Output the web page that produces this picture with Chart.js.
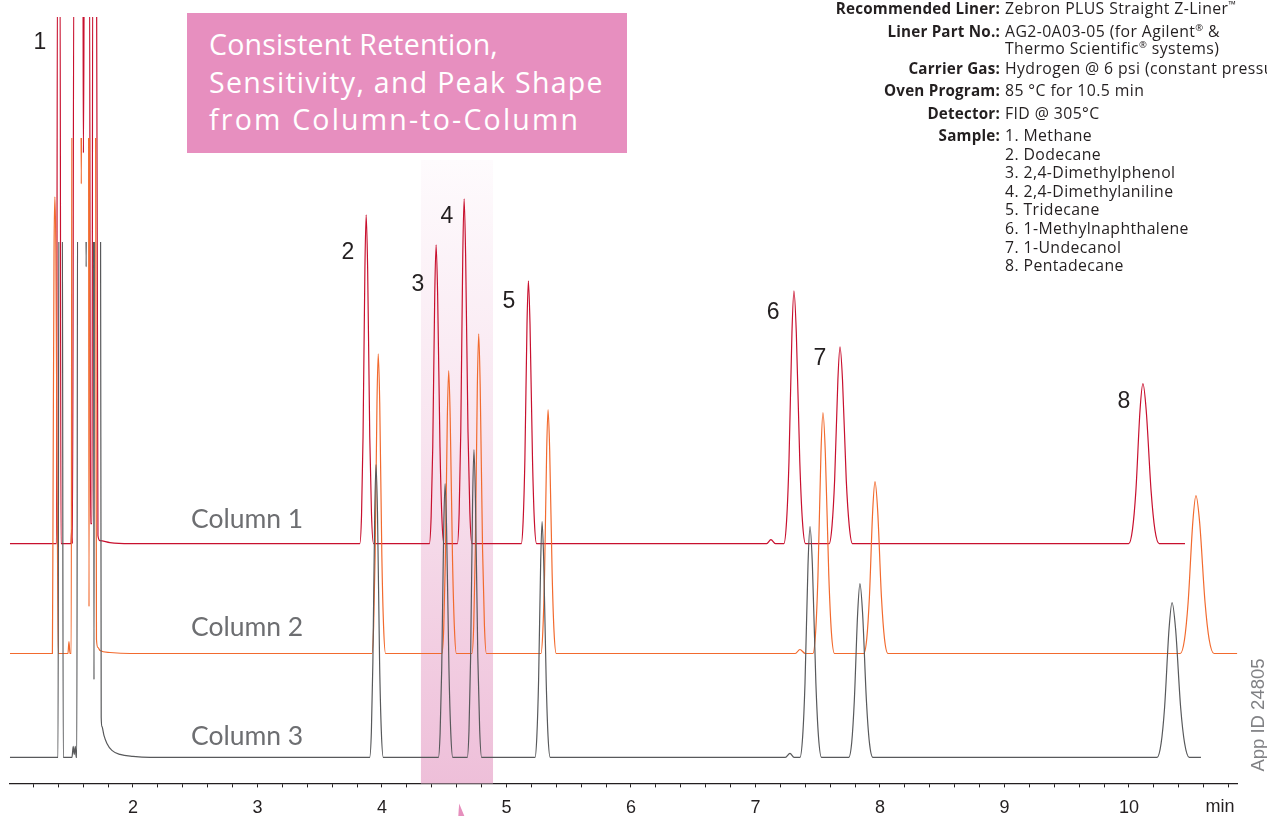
<!DOCTYPE html>
<html>
<head>
<meta charset="utf-8">
<title>Column-to-Column Chromatograms</title>
<script src="https://cdn.jsdelivr.net/npm/chart.js@4.4.1/dist/chart.umd.min.js"></script>
<style>
  html, body { margin: 0; padding: 0; background: #ffffff; overflow: hidden; }
  #wrap { position: relative; width: 1267px; height: 816px; overflow: hidden; }
  #chart { position: absolute; left: 0; top: 0; }
  .headline {
    position: absolute; left: 187px; top: 13px; width: 418px; height: 127px;
    padding: 13px 0 0 22px; background: #e78fbf; color: #ffffff;
    font-family: "Open Sans", Lato, sans-serif; font-size: 28.5px; line-height: 37.5px;
    white-space: nowrap;
  }
  .headline span { display: block; }
  .info { position: absolute; left: 0; top: 0; width: 1267px; height: 300px;
    font-family: "Open Sans", Lato, sans-serif; font-size: 15.8px; letter-spacing: 0.4px; color: #231f20; }
  .row { position: absolute; left: 0; width: 1267px; height: 18px; line-height: 18px; }
  .k { position: absolute; right: 267px; font-weight: 700; white-space: nowrap; font-size: 15.2px; letter-spacing: 0.2px; }
  .v { position: absolute; left: 1005px; white-space: nowrap; }
  .v sup { font-size: 0.6em; line-height: 0; }
  .appid {
    position: absolute; left: 1198px; top: 705px; width: 120px; height: 20px; line-height: 20px;
    text-align: center; transform: rotate(-90deg); color: #808184;
    font-family: "Liberation Sans", Arial, sans-serif; font-size: 18.5px; white-space: nowrap;
  }
</style>
</head>
<body>
<div id="wrap">
  <canvas id="chart" width="1267" height="816"></canvas>
  <div class="headline"><span style="letter-spacing:0.2px">Consistent Retention,</span><span style="letter-spacing:1.3px">Sensitivity, and Peak Shape</span><span style="letter-spacing:2.2px">from Column-to-Column</span></div>
  <div class="info">
    <div class="row" style="top:-1px"><span class="k">Recommended Liner:</span><span class="v">Zebron PLUS Straight Z-Liner<sup>™</sup></span></div>
    <div class="row" style="top:22px"><span class="k">Liner Part No.:</span><span class="v">AG2-0A03-05 (for Agilent<sup>®</sup> &amp;</span></div>
    <div class="row" style="top:39px"><span class="v">Thermo Scientific<sup>®</sup> systems)</span></div>
    <div class="row" style="top:59px"><span class="k">Carrier Gas:</span><span class="v">Hydrogen @ 6 psi (constant pressure)</span></div>
    <div class="row" style="top:81px"><span class="k">Oven Program:</span><span class="v">85 °C for 10.5 min</span></div>
    <div class="row" style="top:104px"><span class="k">Detector:</span><span class="v">FID @ 305°C</span></div>
    <div class="row" style="top:126px"><span class="k">Sample:</span><span class="v">1. Methane</span></div>
    <div class="row" style="top:145px"><span class="v">2. Dodecane</span></div>
    <div class="row" style="top:163px"><span class="v">3. 2,4-Dimethylphenol</span></div>
    <div class="row" style="top:182px"><span class="v">4. 2,4-Dimethylaniline</span></div>
    <div class="row" style="top:200px"><span class="v">5. Tridecane</span></div>
    <div class="row" style="top:219px"><span class="v">6. 1-Methylnaphthalene</span></div>
    <div class="row" style="top:238px"><span class="v">7. 1-Undecanol</span></div>
    <div class="row" style="top:256px"><span class="v">8. Pentadecane</span></div>
  </div>
  <div class="appid">App ID 24805</div>
</div>
<script>
// ---- Data: retention time (min) and detector signal above each trace's own baseline ----
const seriesNames = ['Column 1', 'Column 2', 'Column 3'];

const column1Time = [
  1.012, 1.386, 1.394, 1.414, 1.422, 1.502, 1.508, 1.514, 1.526, 1.598, 1.602, 1.610, 1.651, 1.659, 1.671, 1.677, 1.707, 1.719, 1.735, 1.815, 1.976,
  3.822, 3.836, 3.848, 3.863, 3.873, 3.885, 3.902, 3.916, 3.932,
  4.381, 4.395, 4.408, 4.424, 4.435, 4.447, 4.466, 4.481, 4.497,
  4.606, 4.620, 4.633, 4.649, 4.660, 4.672, 4.691, 4.706, 4.722,
  5.119, 5.134, 5.148, 5.165, 5.176, 5.189, 5.209, 5.224, 5.242,
  7.090, 7.124, 7.160,
  7.228, 7.250, 7.269, 7.293, 7.309, 7.328, 7.356, 7.377, 7.402,
  7.592, 7.615, 7.636, 7.662, 7.679, 7.699, 7.729, 7.753, 7.779,
  9.998, 10.028, 10.055, 10.089, 10.112, 10.138, 10.178, 10.208, 10.243,
  10.450
];
const column1Signal = [
  0, 0, 600, 600, 0, 0, 14, 0, 600, 600, 391, 600, 600, 20, 20, 600, 600, 8, 3, 1, 0,
  0, 29, 107, 275, 329, 275, 107, 29, 0,
  0, 27, 97, 250, 299, 250, 97, 27, 0,
  0, 31, 112, 288, 345, 288, 112, 31, 0,
  0, 23, 85, 220, 263, 220, 85, 23, 0,
  0, 4, 0,
  0, 23, 82, 211, 253, 211, 82, 23, 0,
  0, 18, 64, 164, 197, 164, 64, 18, 0,
  0, 14, 52, 134, 160, 134, 52, 14, 0,
  0
];

const column2Time = [
  1.012, 1.353, 1.358, 1.366, 1.373, 1.381, 1.392, 1.400, 1.478, 1.486, 1.494, 1.504, 1.510, 1.581, 1.585, 1.589, 1.643, 1.647, 1.652, 1.699, 1.707, 1.719, 1.735, 1.815, 1.976,
  3.919, 3.933, 3.945, 3.960, 3.970, 3.982, 3.999, 4.013, 4.029,
  4.482, 4.496, 4.509, 4.525, 4.536, 4.548, 4.567, 4.582, 4.598,
  4.723, 4.737, 4.750, 4.766, 4.777, 4.789, 4.808, 4.823, 4.839,
  5.277, 5.292, 5.306, 5.323, 5.334, 5.347, 5.367, 5.382, 5.400,
  7.320, 7.357, 7.400,
  7.461, 7.483, 7.502, 7.526, 7.542, 7.561, 7.589, 7.610, 7.635,
  7.870, 7.894, 7.915, 7.942, 7.960, 7.981, 8.012, 8.036, 8.064,
  10.412, 10.446, 10.475, 10.513, 10.538, 10.567, 10.611, 10.644, 10.683,
  10.870
];
const column2Signal = [
  0, 0, 150, 400, 457, 400, 150, 0, 0, 12, 0, 0, 600, 600, 470, 600, 600, 47, 600, 600, 14, 6, 3, 1, 0,
  0, 27, 98, 251, 300, 251, 98, 27, 0,
  0, 25, 92, 236, 283, 236, 92, 25, 0,
  0, 28, 104, 267, 320, 267, 104, 28, 0,
  0, 22, 79, 204, 244, 204, 79, 22, 0,
  0, 4, 0,
  0, 21, 78, 201, 241, 201, 78, 21, 0,
  0, 15, 56, 144, 172, 144, 56, 15, 0,
  0, 14, 51, 132, 158, 132, 51, 14, 0,
  0
];

const column3Time = [
  1.012, 1.398, 1.406, 1.432, 1.440, 1.510, 1.520, 1.528, 1.537, 1.544, 1.549, 1.556, 1.620, 1.624, 1.628, 1.683, 1.687, 1.691, 1.739, 1.745, 1.751, 1.767, 1.791, 1.831, 1.896, 2.000, 2.137,
  3.901, 3.915, 3.927, 3.942, 3.952, 3.964, 3.981, 3.995, 4.011,
  4.453, 4.467, 4.480, 4.496, 4.507, 4.519, 4.538, 4.553, 4.569,
  4.685, 4.699, 4.712, 4.728, 4.739, 4.751, 4.770, 4.785, 4.801,
  5.229, 5.244, 5.258, 5.275, 5.286, 5.299, 5.319, 5.334, 5.352,
  7.240, 7.277, 7.310,
  7.357, 7.379, 7.398, 7.422, 7.438, 7.457, 7.485, 7.506, 7.531,
  7.749, 7.773, 7.794, 7.821, 7.839, 7.860, 7.891, 7.915, 7.943,
  10.226, 10.258, 10.286, 10.322, 10.346, 10.374, 10.415, 10.447, 10.484,
  10.578
];
const column3Signal = [
  0, 0, 600, 600, 0, 0, 11, 3, 11, 0, 0, 600, 600, 491, 600, 600, 78, 600, 600, 40, 31, 22, 14, 7, 3, 1, 0,
  0, 26, 95, 245, 293, 245, 95, 26, 0,
  0, 24, 89, 229, 274, 229, 89, 24, 0,
  0, 27, 100, 257, 308, 257, 100, 27, 0,
  0, 21, 77, 197, 236, 197, 77, 21, 0,
  0, 4, 0,
  0, 21, 75, 193, 231, 193, 75, 21, 0,
  0, 15, 57, 145, 174, 145, 57, 15, 0,
  0, 14, 50, 129, 155, 129, 50, 14, 0,
  0
];

const peakNumbers = ['1', '2', '3', '4', '5', '6', '7', '8'];
const majorTicks = [2, 3, 4, 5, 6, 7, 8, 9, 10];
const majorTickLabels = ['2', '3', '4', '5', '6', '7', '8', '9', '10'];
const axisUnit = 'min';

// ---- Layout / styling ----
const traceStyles = [
  { color: '#c8102e', offset: 240, clipTop: 0,    order: 2 },
  { color: '#f26a2e', offset: 130, clipTop: -121, order: 1 },
  { color: '#58595b', offset: 26,  clipTop: -225, order: 0 }
];
const traceData = [
  [column1Time, column1Signal],
  [column2Time, column2Signal],
  [column3Time, column3Signal]
];

const datasets = traceData.map(([times, signal], i) => ({
  label: seriesNames[i],
  data: times.map((t, j) => ({ x: t, y: signal[j] + traceStyles[i].offset })),
  borderColor: traceStyles[i].color,
  borderWidth: 1.2,
  pointRadius: 0,
  fill: false,
  cubicInterpolationMode: 'monotone',
  order: traceStyles[i].order,
  clip: { left: 0, top: traceStyles[i].clipTop, right: 0, bottom: 4 }
}));

// shaded retention window behind peaks 3 and 4
const highlightBand = {
  id: 'highlightBand',
  beforeDatasetsDraw(chart, args, opts) {
    const { ctx, chartArea, scales: { x, y } } = chart;
    const left = x.getPixelForValue(opts.from);
    const right = x.getPixelForValue(opts.to);
    const top = y.getPixelForValue(opts.topLevel);
    const bottom = chartArea.bottom;
    const g = ctx.createLinearGradient(0, top, 0, bottom);
    g.addColorStop(0, '#fefbfd');
    g.addColorStop(0.45, '#f8e4ef');
    g.addColorStop(1, '#eebfd9');
    ctx.save();
    ctx.fillStyle = g;
    ctx.fillRect(left, top, right - left, bottom - top);
    ctx.restore();
  }
};

// peak numbers, trace names, axis unit and pointer
const annotations = {
  id: 'annotations',
  afterDatasetsDraw(chart, args, opts) {
    const { ctx, scales: { x, y } } = chart;
    ctx.save();
    ctx.fillStyle = '#231f20';
    ctx.font = '23px "Liberation Sans", Arial, sans-serif';
    ctx.textAlign = 'center';
    ctx.textBaseline = 'middle';
    peakNumbers.forEach((n, i) => {
      const [t, lvl] = opts.peakAnchors[i];
      ctx.fillText(n, x.getPixelForValue(t), y.getPixelForValue(lvl));
    });
    ctx.fillStyle = '#6d6e71';
    ctx.font = '26.5px Lato, "Open Sans", sans-serif';
    ctx.textAlign = 'left';
    chart.data.datasets.forEach((ds, i) => {
      const [t, lvl] = opts.nameAnchors[i];
      ctx.fillText(ds.label, x.getPixelForValue(t), y.getPixelForValue(lvl));
    });
    ctx.restore();
  },
  afterDraw(chart, args, opts) {
    const { ctx, chartArea, scales: { x } } = chart;
    ctx.save();
    ctx.fillStyle = '#231f20';
    ctx.font = '18px "Liberation Sans", Arial, sans-serif';
    ctx.textAlign = 'center';
    ctx.textBaseline = 'middle';
    ctx.fillText(axisUnit, x.getPixelForValue(opts.unitAt), chartArea.bottom + 24);
    // pointer tip rising toward the shaded window
    const px = x.getPixelForValue(opts.pointerAt);
    ctx.fillStyle = '#e68fbd';
    ctx.beginPath();
    ctx.moveTo(px + 1, chartArea.bottom + 20);
    ctx.lineTo(px + 7, chart.height + 2);
    ctx.lineTo(px, chart.height + 2);
    ctx.closePath();
    ctx.fill();
    ctx.restore();
  }
};

new Chart(document.getElementById('chart'), {
  type: 'line',
  data: { datasets },
  plugins: [highlightBand, annotations],
  options: {
    responsive: false,
    animation: false,
    events: [],
    layout: { padding: { top: 17, left: 9.7, right: 29.7, bottom: -13 } },
    scales: {
      x: {
        type: 'linear',
        min: 1.01,
        max: 10.87,
        afterBuildTicks(scale) {
          const ticks = [];
          for (let v = 1.2; v < 10.85; v += 0.2) ticks.push({ value: Math.round(v * 10) / 10 });
          scale.ticks = ticks;
        },
        ticks: {
          autoSkip: false,
          maxRotation: 0,
          padding: 10,
          color: '#231f20',
          font: { family: '"Liberation Sans", Arial, sans-serif', size: 18 },
          callback(value) {
            const k = majorTicks.indexOf(Math.round(value * 10) / 10);
            return k >= 0 ? majorTickLabels[k] : '';
          }
        },
        grid: { display: true, drawOnChartArea: false, drawTicks: true, tickLength: 4, tickColor: '#231f20', tickWidth: 1 },
        border: { display: true, color: '#231f20', width: 1.2 }
      },
      y: { display: false, min: 0, max: 767 }
    },
    plugins: {
      legend: { display: false },
      tooltip: { enabled: false },
      highlightBand: { from: 4.313, to: 4.892, topLevel: 624 },
      annotations: {
        peakAnchors: [[1.253, 741], [3.727, 531], [4.289, 499], [4.522, 567], [5.020, 482], [7.141, 471], [7.518, 425], [9.960, 382]],
        nameAnchors: [[2.466, 264], [2.466, 156], [2.466, 47]],
        unitAt: 10.731,
        pointerAt: 4.612
      }
    }
  }
});
</script>
</body>
</html>
